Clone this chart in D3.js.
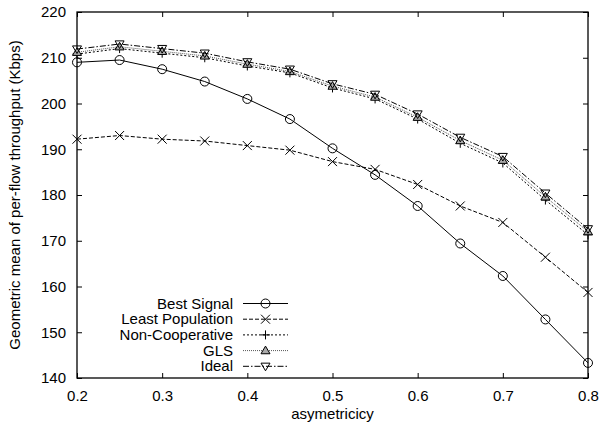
<!DOCTYPE html>
<html lang="en">
<head>
    <meta charset="UTF-8">
    <title>Geometric mean throughput vs asymetricicy</title>
    <script src="https://d3js.org/d3.v7.min.js"></script>
    <style>
        body {margin: 0; background: white;}
        svg {display: block; font-family: "Liberation Sans", Arial, Helvetica, sans-serif;}
    </style>
</head>
<body>
<script>
    const width = 603;
    const height = 428;
    const margin = {top: 12, right: 15, bottom: 50, left: 77};

    // data
    const asym = [0.2, 0.25, 0.3, 0.35, 0.4, 0.45, 0.5, 0.55, 0.6, 0.65, 0.7, 0.75, 0.8];
    const bestSignal = [209.0, 209.5, 207.5, 204.8, 201.0, 196.6, 190.2, 184.4, 177.6, 169.4, 162.3, 152.8, 143.3];
    const leastPopulation = [192.2, 193.0, 192.2, 191.8, 190.8, 189.8, 187.3, 185.6, 182.3, 177.6, 174.0, 166.4, 158.7];
    const nonCooperative = [210.8, 212.0, 211.0, 210.0, 208.2, 206.7, 203.4, 201.0, 196.6, 191.3, 187.0, 178.9, 171.3];
    const gls = [211.2, 212.4, 211.4, 210.4, 208.6, 207.0, 203.8, 201.4, 197.0, 191.9, 187.6, 179.6, 172.0];
    const ideal = [211.9, 213.0, 212.0, 211.0, 209.1, 207.5, 204.3, 202.0, 197.7, 192.6, 188.4, 180.4, 172.6];

    const xTicks = [0.2, 0.3, 0.4, 0.5, 0.6, 0.7, 0.8];
    const yTicks = [140, 150, 160, 170, 180, 190, 200, 210, 220];

    const series = [
        {name: "Best Signal", values: bestSignal, dash: null, stroke: "#000", marker: "circle"},
        {name: "Least Population", values: leastPopulation, dash: "4 2", stroke: "#000", marker: "cross"},
        {name: "Non-Cooperative", values: nonCooperative, dash: "2 2", stroke: "#000", marker: "plus"},
        {name: "GLS", values: gls, dash: "1 1", stroke: "#555", marker: "triangle"},
        {name: "Ideal", values: ideal, dash: "6 2 1.5 2", stroke: "#000", marker: "triangleDown"}
    ];

    const svg = d3.select("body").append("svg")
            .attr("width", width).attr("height", height);

    const x = d3.scaleLinear().domain([0.2, 0.8]).range([margin.left, width - margin.right]);
    const y = d3.scaleLinear().domain([140, 220]).range([height - margin.bottom, margin.top]);

    const tickLen = 5;

    // inner ticks on all four sides, like gnuplot
    svg.append("g").attr("transform", `translate(0,${y(140)})`)
            .call(d3.axisBottom(x).tickValues(xTicks).tickSize(-tickLen).tickPadding(12).tickFormat(d3.format(".1f")))
            .call(g => g.select(".domain").remove());
    svg.append("g").attr("transform", `translate(0,${y(220)})`)
            .call(d3.axisTop(x).tickValues(xTicks).tickSize(-tickLen).tickFormat(""))
            .call(g => g.select(".domain").remove());
    svg.append("g").attr("transform", `translate(${x(0.2)},0)`)
            .call(d3.axisLeft(y).tickValues(yTicks).tickSize(-tickLen).tickPadding(11).tickFormat(d3.format("d")))
            .call(g => g.select(".domain").remove());
    svg.append("g").attr("transform", `translate(${x(0.8)},0)`)
            .call(d3.axisRight(y).tickValues(yTicks).tickSize(-tickLen).tickFormat(""))
            .call(g => g.select(".domain").remove());

    svg.selectAll(".tick text").style("font-size", "15px").style("fill", "#000")
            .style("font-family", '"Liberation Sans", Arial, Helvetica, sans-serif');
    svg.selectAll(".tick line").style("stroke", "#000");

    svg.append("rect")
            .attr("x", x(0.2)).attr("y", y(220))
            .attr("width", x(0.8) - x(0.2)).attr("height", y(140) - y(220))
            .style("fill", "none").style("stroke", "#000").style("stroke-width", 1.3);

    // axis titles
    svg.append("text")
            .attr("x", (x(0.2) + x(0.8)) / 2).attr("y", 419)
            .attr("text-anchor", "middle").style("font-size", "15px")
            .text("asymetricicy");
    svg.append("text")
            .attr("transform", `translate(20,${(y(140) + y(220)) / 2}) rotate(-90)`)
            .attr("text-anchor", "middle").style("font-size", "15px")
            .text("Geometric mean of per-flow throughput (Kbps)");

    function drawMarker(g, type, cx, cy) {
        const s = 4.5;
        if (type === "circle") {
            g.append("circle").attr("cx", cx).attr("cy", cy).attr("r", s)
                    .style("fill", "none").style("stroke", "#000");
        } else if (type === "cross") {
            g.append("path").attr("d", `M${cx - s},${cy - s}L${cx + s},${cy + s}M${cx - s},${cy + s}L${cx + s},${cy - s}`)
                    .style("stroke", "#000").style("fill", "none");
        } else if (type === "plus") {
            g.append("path").attr("d", `M${cx - s},${cy}L${cx + s},${cy}M${cx},${cy - s}L${cx},${cy + s}`)
                    .style("stroke", "#000").style("fill", "none");
        } else if (type === "triangle") {
            g.append("path").attr("d", `M${cx},${cy - s}L${cx + s},${cy + s * 0.7}L${cx - s},${cy + s * 0.7}Z`)
                    .style("stroke", "#000").style("fill", "#aaa");
        } else {
            g.append("path").attr("d", `M${cx},${cy + s}L${cx + s},${cy - s * 0.7}L${cx - s},${cy - s * 0.7}Z`)
                    .style("stroke", "#000").style("fill", "none");
        }
    }

    const line = d3.line().x(d => x(d[0])).y(d => y(d[1]));

    series.forEach(function(s) {
        const pts = asym.map((a, i) => [a, s.values[i]]);
        const g = svg.append("g").attr("class", "series");
        g.append("path")
                .datum(pts)
                .attr("d", line)
                .style("fill", "none")
                .style("stroke", s.stroke)
                .style("stroke-width", 1)
                .style("stroke-dasharray", s.dash);
        pts.forEach(p => drawMarker(g, s.marker, x(p[0]), y(p[1])));
    });

    // legend
    const legend = svg.append("g").attr("class", "legend");
    series.forEach(function(s, i) {
        const ly = 303.5 + i * 15.7;
        legend.append("text")
                .attr("x", 233).attr("y", ly + 5)
                .attr("text-anchor", "end").style("font-size", "15px")
                .text(s.name);
        legend.append("line")
                .attr("x1", 243).attr("x2", 288).attr("y1", ly).attr("y2", ly)
                .style("stroke", s.stroke).style("stroke-width", 1)
                .style("stroke-dasharray", s.dash);
        drawMarker(legend, s.marker, 265.5, ly);
    });
</script>
</body>
</html>
